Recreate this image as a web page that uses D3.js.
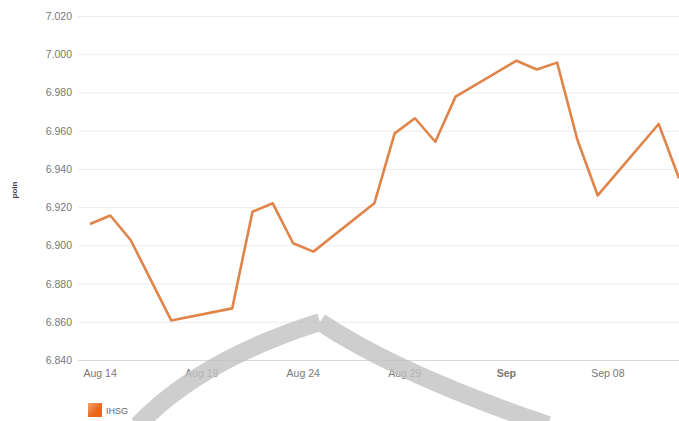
<!DOCTYPE html>
<html>
<head>
<meta charset="utf-8">
<script src="https://cdn.jsdelivr.net/npm/d3@7"></script>
<style>
  body { margin: 0; background: #fff; }
  svg { display: block; font-family: "Liberation Sans", Arial, sans-serif; }
</style>
</head>
<body>
<script>
// IHSG daily close, Aug 14 - Sep 12 (trading days only)
var dates = ['2023-08-14','2023-08-15','2023-08-16','2023-08-18','2023-08-21','2023-08-22','2023-08-23',
  '2023-08-24','2023-08-25','2023-08-28','2023-08-29','2023-08-30','2023-08-31','2023-09-01',
  '2023-09-04','2023-09-05','2023-09-06','2023-09-07','2023-09-08','2023-09-11','2023-09-12'];
var values = [6.9112, 6.9156, 6.9028, 6.8607, 6.8670, 6.9176, 6.9220,
  6.9011, 6.8967, 6.9220, 6.9586, 6.9665, 6.9542, 6.9778,
  6.9966, 6.9920, 6.9956, 6.9551, 6.9261, 6.9635, 6.9351];

// x axis labels sit half a day to the right of the point they name
var tick_dates = ['2023-08-14','2023-08-19','2023-08-24','2023-08-29','2023-09-03','2023-09-08'];
var tick_labels = ['Aug 14','Aug 19','Aug 24','Aug 29','Sep','Sep 08'];
var y_ticks = [6.84, 6.86, 6.88, 6.90, 6.92, 6.94, 6.96, 6.98, 7.00, 7.02];

var width = 679, height = 421;
var line_color = '#e0844a';

var parse = d3.utcParse('%Y-%m-%d');
var data = dates.map((d,i) => ({date: parse(d), value: values[i]}));

var svg = d3.select('body').append('svg').attr('width', width).attr('height', height);

var x = d3.scaleUtc().domain([parse('2023-08-14'), parse('2023-09-12')]).range([90, 679]);
var y = d3.scaleLinear().domain([6.84, 7.02]).range([360, 16]);

// gridlines
svg.append('g').selectAll('line').data(y_ticks).enter().append('line')
  .attr('x1', 78).attr('x2', width)
  .attr('y1', d => y(d) + 0.5).attr('y2', d => y(d) + 0.5)
  .attr('stroke', (d,i) => i == 0 ? '#d8d8d8' : '#ececec').attr('stroke-width', 1);

// y tick labels
var fmt = d3.format(',.3f');
svg.append('g').selectAll('text').data(y_ticks).enter().append('text')
  .text(d => fmt(d).replace(',', '.'))
  .attr('x', 72).attr('y', d => y(d) + 4)
  .attr('text-anchor', 'end').attr('fill', '#777').attr('font-size', '10.5px');

// y axis title
svg.append('text').text('poin')
  .attr('transform', 'translate(17,190) rotate(270)')
  .attr('text-anchor', 'middle').attr('fill', '#444').attr('font-size', '8px').attr('font-weight', 'bold');

// x tick labels
svg.append('g').selectAll('text').data(tick_dates).enter().append('text')
  .text((d,i) => tick_labels[i])
  .attr('x', d => x(d3.utcHour.offset(parse(d), 12)))
  .attr('y', 377)
  .attr('text-anchor', 'middle').attr('fill', '#777').attr('font-size', '10.5px')
  .attr('font-weight', (d,i) => tick_labels[i] == 'Sep' ? 'bold' : 'normal');

// the series
var line = d3.line().x(d => x(d.date)).y(d => y(d.value));
svg.append('path').datum(data)
  .attr('d', line)
  .attr('fill', 'none').attr('stroke', line_color).attr('stroke-width', 2.6)
  .attr('stroke-linejoin', 'round');

// legend
var grad = svg.append('defs').append('linearGradient').attr('id', 'lg')
  .attr('x1', 0).attr('y1', 0).attr('x2', 1).attr('y2', 1);
grad.append('stop').attr('offset', '0%').attr('stop-color', '#f3a46a');
grad.append('stop').attr('offset', '60%').attr('stop-color', '#e8651c');
svg.append('rect').attr('x', 88).attr('y', 403).attr('width', 14).attr('height', 14).attr('fill', 'url(#lg)');
svg.append('text').text('IHSG').attr('x', 106).attr('y', 414)
  .attr('fill', '#666').attr('font-size', '9px');

// grey watermark arc laid over the picture
var mark = svg.append('g').attr('fill', 'none').attr('stroke', '#c2c2c2').attr('opacity', 0.8)
  .attr('stroke-linecap', 'butt');
mark.append('path').attr('d', 'M138,425 Q200,360 320,322').attr('stroke-width', 18);
mark.append('path').attr('d', 'M320,322 Q400,375 548,425').attr('stroke-width', 18);
</script>
</body>
</html>
